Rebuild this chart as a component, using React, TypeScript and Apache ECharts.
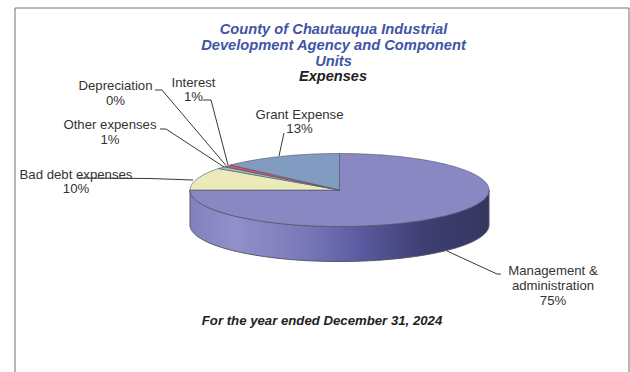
import React, { useEffect, useRef } from "react";
import * as echarts from "echarts";

const categories = [
  "Management &\nadministration",
  "Bad debt expenses",
  "Other expenses",
  "Depreciation",
  "Interest",
  "Grant Expense",
];
const percentages = [75, 10, 1, 0, 1, 13];
const sliceColors = ["#8A88C2", "#EBEBB9", "#8FCBD0", "#6B3A6E", "#D8525A", "#829BC0"];

const titleLines = [
  "County of Chautauqua Industrial",
  "Development Agency and Component",
  "Units",
];
const subtitle = "Expenses";
const footnote = "For the year ended December 31, 2024";

// Label block centre and the elbow of each leader line, by slice.
const labelLayout = [
  { x: 553, y: 285.5, start: [501, 274], elbow: [497, 274], lh: 15 },
  { x: 76, y: 181.5, start: [78, 178], elbow: [150, 178.5], lh: 14.5 },
  { x: 110, y: 131.5, start: [160, 129], elbow: [166, 129], lh: 15 },
  { x: 115.5, y: 93, start: [155, 90], elbow: [162, 90], lh: 15 },
  { x: 193.5, y: 89.5, start: [203, 100], elbow: [211, 100], lh: 14.5 },
  { x: 299.5, y: 121.5, start: [284, 133], elbow: [284, 133], lh: 14.5 },
];
const leaderEnds = [
  [447, 251],
  [193, 180],
  [224, 167],
  [226, 165.5],
  [228, 165],
  [279, 156],
];

const CX = 339.5;
const CY = 190;
const RX = 149.5;
const RY = 36.5;
const DEPTH = 35;

// Point on the top ellipse, angle measured clockwise from twelve o'clock.
function rim(angle: number, dy = 0): number[] {
  return [CX + RX * Math.sin(angle), CY - RY * Math.cos(angle) + dy];
}

function arcPoints(a0: number, a1: number, dy = 0): number[][] {
  const steps = Math.max(2, Math.ceil(Math.abs(a1 - a0) * 40));
  const pts: number[][] = [];
  for (let i = 0; i <= steps; i++) pts.push(rim(a0 + ((a1 - a0) * i) / steps, dy));
  return pts;
}

const total = percentages.reduce((a, b) => a + b, 0);

const renderSlice = (params: any, api: any) => {
  const i = params.dataIndex;
  const before = percentages.slice(0, i).reduce((a, b) => a + b, 0);
  const a0 = (before / total) * Math.PI * 2;
  const a1 = a0 + (api.value(1) / total) * Math.PI * 2;
  const children: any[] = [];

  // Front wall of the disc, only where the slice faces the viewer.
  const w0 = Math.max(a0, Math.PI / 2);
  const w1 = Math.min(a1, (Math.PI * 3) / 2);
  if (w1 > w0) {
    const top = arcPoints(w0, w1);
    const bottom = arcPoints(w1, w0, DEPTH);
    children.push({
      type: "polygon",
      shape: { points: [...top, ...bottom] },
      style: {
        fill: new echarts.graphic.LinearGradient(0, 0, 1, 0, [
          { offset: 0, color: "#8381BD" },
          { offset: 0.15, color: "#9290CA" },
          { offset: 0.38, color: "#7A79B8" },
          { offset: 0.55, color: "#5E5DA5" },
          { offset: 0.78, color: "#3E3F72" },
          { offset: 1, color: "#35365F" },
        ]),
        stroke: "#55556A",
        lineWidth: 1,
      },
    });
  }

  // Top face.
  if (a1 > a0) {
    children.push({
      type: "polygon",
      shape: { points: [[CX, CY], ...arcPoints(a0, a1)] },
      style: { fill: sliceColors[i], stroke: "#4F4F66", lineWidth: 0.6 },
    });
  }

  // Leader line and label.
  const lay = labelLayout[i];
  const end = leaderEnds[i];
  children.push({
    type: "polyline",
    shape: { points: [lay.start, lay.elbow, end] },
    style: { fill: "none", stroke: "#222222", lineWidth: 0.9 },
  });
  children.push({
    type: "text",
    style: {
      x: lay.x,
      y: lay.y,
      text: `${categories[i]}\n${api.value(1)}%`,
      align: "center",
      verticalAlign: "middle",
      fill: "#333333",
      fontFamily: "Liberation Sans",
      fontSize: 13.2,
      lineHeight: lay.lh,
    },
  });
  return { type: "group", children };
};

export default function App() {
  const ref = useRef<HTMLDivElement>(null);
  useEffect(() => {
    const chart = echarts.init(ref.current!, null, { renderer: "svg" });
    chart.setOption({
      animation: false,
      backgroundColor: "#FFFFFF",
      graphic: [
        {
          type: "polyline",
          shape: { points: [[15, 372], [15, 8], [629, 8], [629, 372]] },
          style: { fill: "none", stroke: "#707070", lineWidth: 1 },
          z: 0,
        },
      ],
      title: [
        {
          text: titleLines.join("\n"),
          left: 333.5,
          top: 21,
          padding: 0,
          textAlign: "center",
          textStyle: {
            color: "#3F55A5",
            fontFamily: "Liberation Sans",
            fontStyle: "italic",
            fontWeight: "bold",
            fontSize: 14.7,
            lineHeight: 16,
          },
        },
        {
          text: subtitle,
          left: 333,
          top: 68,
          padding: 0,
          textAlign: "center",
          textStyle: {
            color: "#222222",
            fontFamily: "Liberation Sans",
            fontStyle: "italic",
            fontWeight: "bold",
            fontSize: 14.6,
          },
        },
        {
          text: footnote,
          left: 322,
          top: 314,
          padding: 0,
          textAlign: "center",
          textStyle: {
            color: "#222222",
            fontFamily: "Liberation Sans",
            fontStyle: "italic",
            fontWeight: "bold",
            fontSize: 13.2,
          },
        },
      ],
      series: [
        {
          type: "custom",
          coordinateSystem: "none",
          renderItem: renderSlice,
          data: categories.map((name, i) => [i, percentages[i], name]),
          encode: { value: 1 },
          silent: true,
        },
      ],
    });
    return () => chart.dispose();
  }, []);
  return <div ref={ref} style={{ position: "fixed", left: 0, top: 0, width: 630, height: 372 }} />;
}
